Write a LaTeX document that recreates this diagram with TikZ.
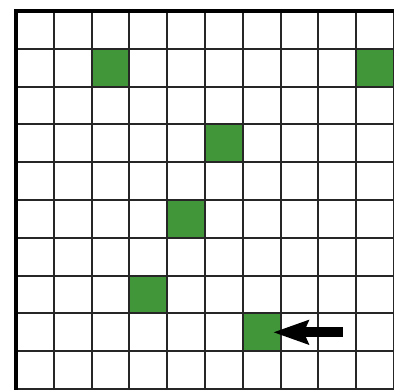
\documentclass[tikz,border=0pt]{standalone}
\usepackage{xcolor}
\usepackage{tikz}
\usetikzlibrary{arrows.meta}

\definecolor{cellgreen}{RGB}{66,150,58}

\begin{document}
\begin{tikzpicture}[
  gridline/.style={draw=black!85, line width=1.5pt},
  border/.style={draw=black, line width=2.4pt},
  cell/.style={draw=black!85, line width=1.5pt, fill=cellgreen, minimum size=1cm, inner sep=0pt},
  arrow/.style={-{Stealth[length=0.93cm, width=0.62cm, inset=0.12cm]}, line width=7.5pt, shorten >=0.3cm}
]
\clip (-0.423,0.291) rectangle (10.0,-10.026);

\draw[gridline] (0,-10) grid (10,0);
\draw[border] (0,-10.2) -- (0,0) -- (10.2,0);

\node[cell] (c12) at (2.5,-1.5) {};
\node[cell] (c19) at (9.5,-1.5) {};
\node[cell] (c35) at (5.5,-3.5) {};
\node[cell] (c54) at (4.5,-5.5) {};
\node[cell] (c73) at (3.5,-7.5) {};
\node[cell] (c86) at (6.5,-8.5) {};

\coordinate (tail) at (8.65,-8.5);
\draw[arrow] (tail) -- (c86.center);
\end{tikzpicture}
\end{document}
